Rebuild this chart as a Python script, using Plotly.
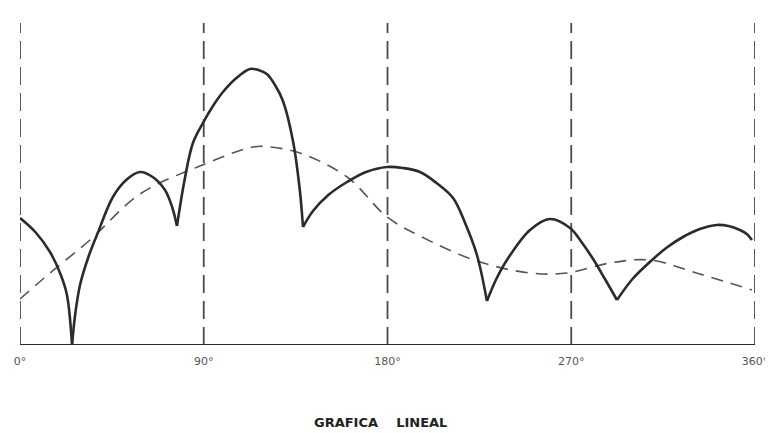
import plotly.graph_objects as go

# Solid curve (arches), degrees and height above baseline
solid_deg = [0, 7.5, 14.7, 20.0, 23.0, 25.5,
             27.0, 29.4, 33.5, 37.7, 45.5, 52.0, 58.8, 65.0, 71.0, 74.5, 76.9,
             80.6, 84.7, 89.6, 94.5, 99.4, 106.0, 112.6, 116.8, 120.9, 124.9, 128.8, 133.7, 137.1, 138.6,
             143.5, 151.0, 160.2, 169.5, 179.8, 187.5, 195.9, 204.0, 212.1, 218.0, 223.8, 228.7,
             233.3, 238.5, 249.8, 259.6, 269.4, 275.0, 280.7, 286.5, 292.4,
             300.0, 308.5, 316.5, 324.7, 333.0, 341.3, 347.0, 352.6, 356.0, 358.5]
solid_val = [127, 113, 93, 70, 50, 0,
             30, 60, 88, 110, 148, 165, 173, 168, 155, 138, 119,
             165, 202, 222, 239, 253, 267, 276, 275, 271, 260, 244, 204, 154, 118,
             134, 150, 163, 173, 178, 177, 173, 162, 147, 122, 90, 44,
             66, 85, 115, 126, 117, 103, 86, 66, 45,
             66, 83, 97, 108, 116, 120, 119, 115, 111, 105]
# indices where the arches meet (cusps)
cusp_idx = [5, 16, 30, 42, 51]

# Dashed curve
dash_deg = [0, 14.7, 34.3, 58.8, 88.1, 114.1, 122.4, 137.1, 160.2, 179.8,
            195.9, 223.8, 249.8, 267.9, 288.9, 308.5, 333.0, 358.5]
dash_val = [46, 72, 105, 151, 179, 198, 198, 192, 168, 128,
            109, 84, 72, 72, 82, 85, 71, 55]

tick_vals = [0, 90, 180, 270, 360]
tick_text = ["0°", "90°", "180°", "270°", "360°"]
title_text = "GRAFICA    LINEAL"

INK = "#2b2b2b"
fig = go.Figure()

# dashed curve
fig.add_trace(go.Scatter(x=dash_deg, y=dash_val, mode="lines",
                         line=dict(color="#555555", width=1.6, dash="12px,8px", shape="spline", smoothing=1.0),
                         hoverinfo="skip", showlegend=False))

# solid arches
bounds = [0] + cusp_idx + [len(solid_deg) - 1]
for a, b in zip(bounds[:-1], bounds[1:]):
    fig.add_trace(go.Scatter(x=solid_deg[a:b + 1], y=solid_val[a:b + 1], mode="lines",
                             line=dict(color=INK, width=2.6, shape="spline", smoothing=1.0),
                             hoverinfo="skip", showlegend=False))

# vertical dashed lines
for t in tick_vals:
    fig.add_shape(type="line", x0=t, x1=t, y0=0, y1=322, xref="x", yref="y",
                  line=dict(color="#4a4a4a", width=1.8, dash="18px,8px"), layer="below")

# baseline
fig.add_shape(type="line", x0=-1, x1=360, y0=0, y1=0, xref="x", yref="y",
              line=dict(color=INK, width=2))

fig.add_annotation(text=title_text, x=0.49, y=-0.23, xref="paper", yref="paper",
                   yanchor="middle", showarrow=False,
                   font=dict(family="DejaVu Sans", size=13, color="#222222", weight="bold"))

# page body has an 8px default margin: figure sized/offset to compensate
fig.update_layout(
    width=765, height=425,
    margin=dict(l=12, r=18, t=2, b=88),
    paper_bgcolor="white", plot_bgcolor="white",
    xaxis=dict(range=[0, 360], tickvals=tick_vals, ticktext=tick_text, showgrid=False,
               zeroline=False, showline=False, ticks="", ticklabelstandoff=8,
               ticklabeloverflow="allow",
               tickfont=dict(family="DejaVu Sans", size=11, color="#555555")),
    yaxis=dict(range=[0, 335], visible=False, showgrid=False, zeroline=False),
)

fig.write_html("out.html")
